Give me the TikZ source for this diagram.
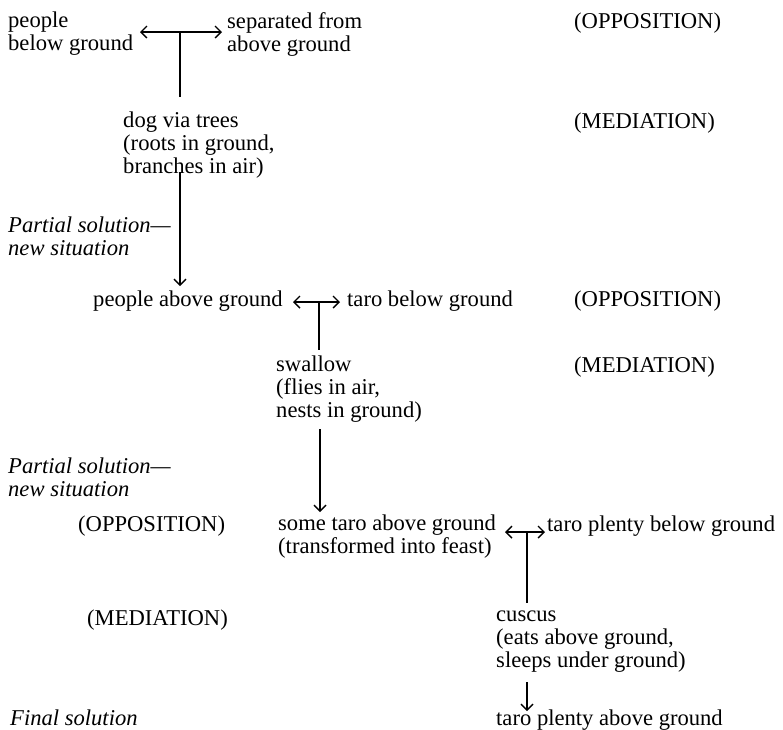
\documentclass[tikz,border=0pt]{standalone}
\usepackage{fontspec}
\setmainfont{Liberation Serif}
\usetikzlibrary{arrows.meta}
\begin{document}
\begin{tikzpicture}[x=1pt,y=-1pt,
  txt/.style={anchor=north west,inner sep=0pt,align=left,font=\fontsize{22.6}{23}\selectfont,execute at begin node=\strut},
  itxt/.style={txt,font=\fontsize{22.6}{23}\selectfont\itshape},
  conn/.style={line width=1.4pt},
  arr/.style={conn,-{Straight Barb[length=6pt,width=12pt,line width=1.4pt]}},
  darr/.style={conn,{Straight Barb[length=6pt,width=12pt,line width=1.4pt]}-{Straight Barb[length=6pt,width=12pt,line width=1.4pt]}}]
\useasboundingbox (0,0) rectangle (783,729);
% row 1
\node[txt] (p1) at (8,12) {people\\below ground};
\node[txt] (s1) at (227,12) {separated from\\above ground};
\node[txt] (o1) at (574,12) {(OPPOSITION)};
\coordinate (d1l) at (140,32);
\coordinate (d1r) at (222,32);
\coordinate (d1m) at (180,32);
\coordinate (d1b) at (180,97);
\draw[darr] (d1l) -- (d1r);
\draw[conn] (d1m) -- (d1b);
% mediation 1
\node[txt] (m1) at (123,112) {dog via trees\\(roots in ground,\\branches in air)};
\node[txt] (md1) at (574,112) {(MEDIATION)};
\coordinate (a1t) at (180,172);
\coordinate (a1b) at (180,286);
\draw[arr] (a1t) -- (a1b);
\node[itxt] (ps1) at (8,217) {Partial solution---\\new situation};
% row 2
\node[txt] (p2) at (93,290) {people above ground};
\node[txt] (t2) at (347,290) {taro below ground};
\node[txt] (o2) at (574,290) {(OPPOSITION)};
\coordinate (d2l) at (293,302);
\coordinate (d2r) at (340,302);
\coordinate (d2m) at (319,302);
\coordinate (d2b) at (319,350);
\draw[darr] (d2l) -- (d2r);
\draw[conn] (d2m) -- (d2b);
\node[txt] (m2) at (276,356) {swallow\\(flies in air,\\nests in ground)};
\node[txt] (md2) at (574,356) {(MEDIATION)};
\coordinate (a2t) at (320,429);
\coordinate (a2b) at (320,512);
\draw[arr] (a2t) -- (a2b);
\node[itxt] (ps2) at (8,458) {Partial solution---\\new situation};
% row 3
\node[txt] (o3) at (78,515) {(OPPOSITION)};
\node[txt] (p3) at (278,515) {some taro above ground\\(transformed into feast)};
\node[txt] (t3) at (547,515) {taro plenty below ground};
\coordinate (d3l) at (505,532);
\coordinate (d3r) at (545,532);
\coordinate (d3m) at (527,532);
\coordinate (d3b) at (527,603);
\draw[darr] (d3l) -- (d3r);
\draw[conn] (d3m) -- (d3b);
\node[txt] (md3) at (87,609) {(MEDIATION)};
\node[txt] (m3) at (496,611) {cuscus\\(eats above ground,\\sleeps under ground)};
\coordinate (a3t) at (527,682);
\coordinate (a3b) at (527,711);
\draw[arr] (a3t) -- (a3b);
\node[itxt] (fs) at (10,709) {Final solution};
\node[txt] (fin) at (496,709) {taro plenty above ground};
\end{tikzpicture}
\end{document}
